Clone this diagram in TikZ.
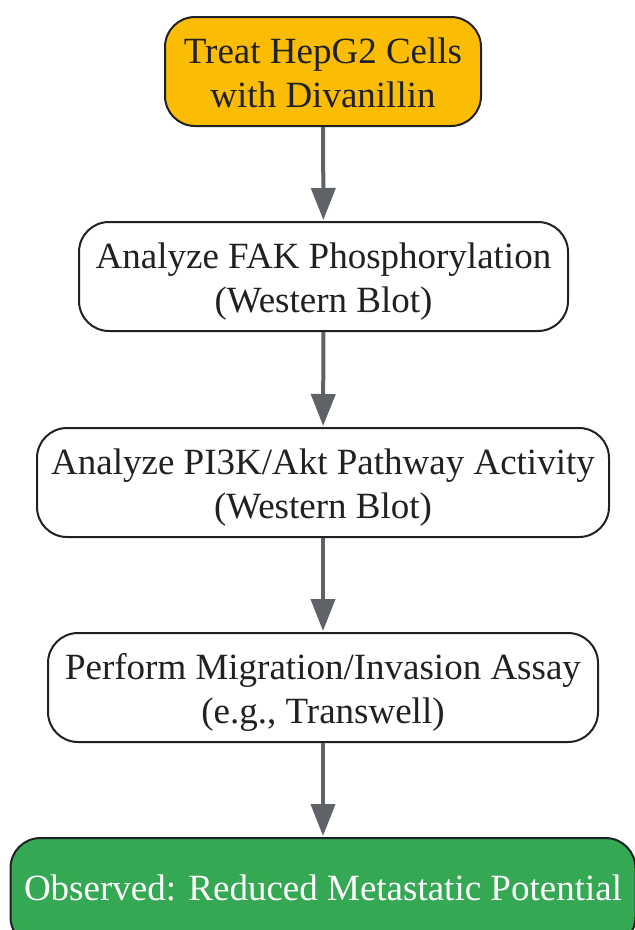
\documentclass[tikz,border=0pt]{standalone}
\usepackage{fontspec}
\setmainfont{Liberation Serif}
\usetikzlibrary{arrows.meta}
\definecolor{ylw}{HTML}{FBBC04}
\definecolor{grn}{HTML}{34A853}
\definecolor{arr}{HTML}{5F6368}
\definecolor{bord}{HTML}{202124}
\definecolor{txt}{HTML}{202124}
\newcommand{\topst}{\rule{0pt}{35pt}}
\newcommand{\botst}{\rule[-8pt]{0pt}{8pt}}
\tikzset{
  box/.style={draw=bord, line width=2pt, rounded corners=30pt, align=center,
    minimum height=109pt, inner xsep=0pt, inner ysep=0pt, text=txt,
    font=\fontsize{37}{44}\selectfont},
  flow/.style={draw=arr, line width=4pt, -{Triangle[width=24pt,length=32pt]}, shorten >=1pt}
}
\begin{document}
\begin{tikzpicture}[x=1pt,y=-1pt]
\useasboundingbox (0,0) rectangle (635,930);
\clip (0,0) rectangle (635,930);
\node[box, fill=ylw, minimum width=316pt] (n1) at (323,71.5) {\topst Treat HepG2 Cells\\with Divanillin\botst};
\node[box, fill=white, minimum width=489pt] (n2) at (323.5,276.5) {\topst Analyze FAK Phosphorylation\\(Western Blot)\botst};
\node[box, fill=white, minimum width=572pt] (n3) at (323,482.5) {\topst Analyze PI3K/Akt Pathway Activity\\(Western Blot)\botst};
\node[box, fill=white, minimum width=550pt] (n4) at (323,687.5) {\topst Perform Migration/Invasion Assay\\(e.g., Transwell)\botst};
\node[box, fill=grn, text=white, minimum width=625pt] (n5) at (323,892.5) {Observed: Reduced Metastatic Potential\rule[-10pt]{0pt}{10pt}};
\draw[flow] (n1) -- (n2);
\draw[flow] (n2) -- (n3);
\draw[flow] (n3) -- (n4);
\draw[flow] (n4) -- (n5);
\end{tikzpicture}
\end{document}
